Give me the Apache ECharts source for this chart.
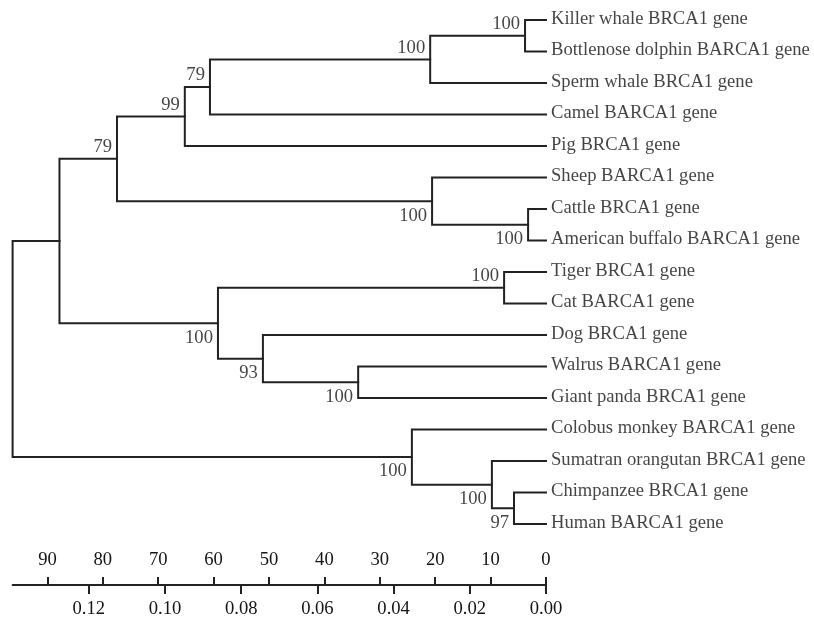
<!DOCTYPE html>
<html>
<head>
<meta charset="utf-8">
<script src="https://cdn.jsdelivr.net/npm/echarts@6/dist/echarts.min.js"></script>
<style>html,body{margin:0;padding:0;background:#fff}#c{width:814px;height:618px}</style>
</head>
<body>
<div id="c"></div>
<script>
// ---- data ----
const leaves = [
  'Killer whale BRCA1 gene', 'Bottlenose dolphin BARCA1 gene', 'Sperm whale BRCA1 gene',
  'Camel BARCA1 gene', 'Pig BRCA1 gene', 'Sheep BARCA1 gene', 'Cattle BRCA1 gene',
  'American buffalo BARCA1 gene', 'Tiger BRCA1 gene', 'Cat BARCA1 gene', 'Dog BRCA1 gene',
  'Walrus BARCA1 gene', 'Giant panda BRCA1 gene', 'Colobus monkey BARCA1 gene',
  'Sumatran orangutan BRCA1 gene', 'Chimpanzee BRCA1 gene', 'Human BARCA1 gene'
];
// internal nodes: children (L = leaf index, N = node index), branch-point distance, bootstrap support
const nodeChildren = [
  ['L0', 'L1'], ['N0', 'L2'], ['N1', 'L3'], ['N2', 'L4'], ['L6', 'L7'], ['L5', 'N4'],
  ['N3', 'N5'], ['L8', 'L9'], ['L11', 'L12'], ['L10', 'N8'], ['N7', 'N9'], ['N6', 'N10'],
  ['L15', 'L16'], ['L14', 'N12'], ['L13', 'N13'], ['N11', 'N14']
];
const nodeHeights = [0.0055, 0.0304, 0.0882, 0.0948, 0.0047, 0.0299, 0.1126, 0.0110,
  0.0493, 0.0743, 0.0861, 0.1277, 0.0084, 0.0142, 0.0352, 0.1400];
const nodeSupport = [100, 100, 79, 99, 100, 100, 79, 100, 100, 93, 100, null, 97, 100, 100, null];
const distTicks = [0, 0.02, 0.04, 0.06, 0.08, 0.10, 0.12];
const timeTicks = [0, 10, 20, 30, 40, 50, 60, 70, 80, 90];
const timePerDist = 1 / 0.001454; // time units per distance unit (top scale)

// ---- styling / placement (not data) ----
const labelAbove = [true, true, true, true, false, false, true, true, false, false, false, false, false, false, false, false];
const INK = '#222';
const TEXT = '#141414';
const FONT = 'Liberation Serif';
const FS = 18.6;
const ROW = 31.5, TOP = 20, AXIS_Y = 585;

// ---- layout computation ----
const nodeY = [];
function yOf(ref) {
  const i = parseInt(ref.slice(1));
  return ref[0] === 'L' ? i : nodeY[i];
}
function hOf(ref) {
  const i = parseInt(ref.slice(1));
  return ref[0] === 'L' ? 0 : nodeHeights[i];
}
nodeChildren.forEach((ch, i) => { nodeY[i] = (yOf(ch[0]) + yOf(ch[1])) / 2; });

const treeLines = nodeChildren.map((ch, i) => ({
  coords: [[hOf(ch[0]), yOf(ch[0])], [nodeHeights[i], yOf(ch[0])],
           [nodeHeights[i], yOf(ch[1])], [hOf(ch[1]), yOf(ch[1])]]
}));

const supportPts = [];
nodeSupport.forEach((s, i) => {
  if (s == null) return;
  supportPts.push({
    value: [nodeHeights[i], nodeY[i], s],
    label: { offset: [0, labelAbove[i] ? -11.5 : 14.5] }
  });
});

const leafPts = leaves.map((n, i) => ({ value: [0, i], name: n }));

const maxDist = 0.14;
const gridBox = { left: 12.6, right: 268, top: TOP, bottom: 618 - AXIS_Y, containLabel: false, outerBoundsMode: 'none' };
const chart = echarts.init(document.getElementById('c'), null, { renderer: 'canvas' });
chart.setOption({
  animation: false,
  backgroundColor: '#fff',
  grid: [Object.assign({}, gridBox), Object.assign({}, gridBox)],
  xAxis: [
    {
      gridIndex: 0, type: 'value', inverse: true, min: 0, max: maxDist, position: 'bottom',
      splitLine: { show: false },
      axisLine: { show: true, onZero: false, lineStyle: { color: INK, width: 2 } },
      axisTick: { show: true, customValues: distTicks, length: 9, lineStyle: { color: INK, width: 2 } },
      axisLabel: { show: true, customValues: distTicks, margin: 15, color: TEXT, fontFamily: FONT, fontSize: FS,
        formatter: v => v.toFixed(2) }
    },
    {
      gridIndex: 1, type: 'value', inverse: true, min: 0, max: maxDist * timePerDist, position: 'bottom',
      splitLine: { show: false },
      axisLine: { show: false, onZero: false },
      axisTick: { show: true, inside: true, customValues: timeTicks, length: 8, lineStyle: { color: INK, width: 2 } },
      axisLabel: { show: true, inside: true, customValues: timeTicks, margin: 15, color: TEXT, fontFamily: FONT, fontSize: FS,
        formatter: v => String(Math.round(v)) }
    }
  ],
  yAxis: [
    { gridIndex: 0, type: 'value', inverse: true, min: 0, max: (AXIS_Y - TOP) / ROW, show: false },
    { gridIndex: 1, type: 'value', min: 0, max: 1, show: false }
  ],
  series: [
    {
      type: 'lines', coordinateSystem: 'cartesian2d', xAxisIndex: 0, yAxisIndex: 0, polyline: true, silent: true,
      lineStyle: { color: INK, width: 2, opacity: 1, join: 'miter', cap: 'square' },
      data: treeLines
    },
    {
      type: 'scatter', xAxisIndex: 0, yAxisIndex: 0, symbolSize: 0, silent: true, data: leafPts,
      label: { show: true, position: 'right', distance: 5, offset: [0, -1], color: TEXT, fontFamily: FONT, fontSize: FS,
        formatter: p => p.name }
    },
    {
      type: 'scatter', xAxisIndex: 0, yAxisIndex: 0, symbolSize: 0, silent: true, data: supportPts,
      label: { show: true, position: 'left', distance: 5, color: TEXT, fontFamily: FONT, fontSize: FS,
        formatter: p => String(p.value[2]) }
    }
  ]
});
</script>
</body>
</html>
